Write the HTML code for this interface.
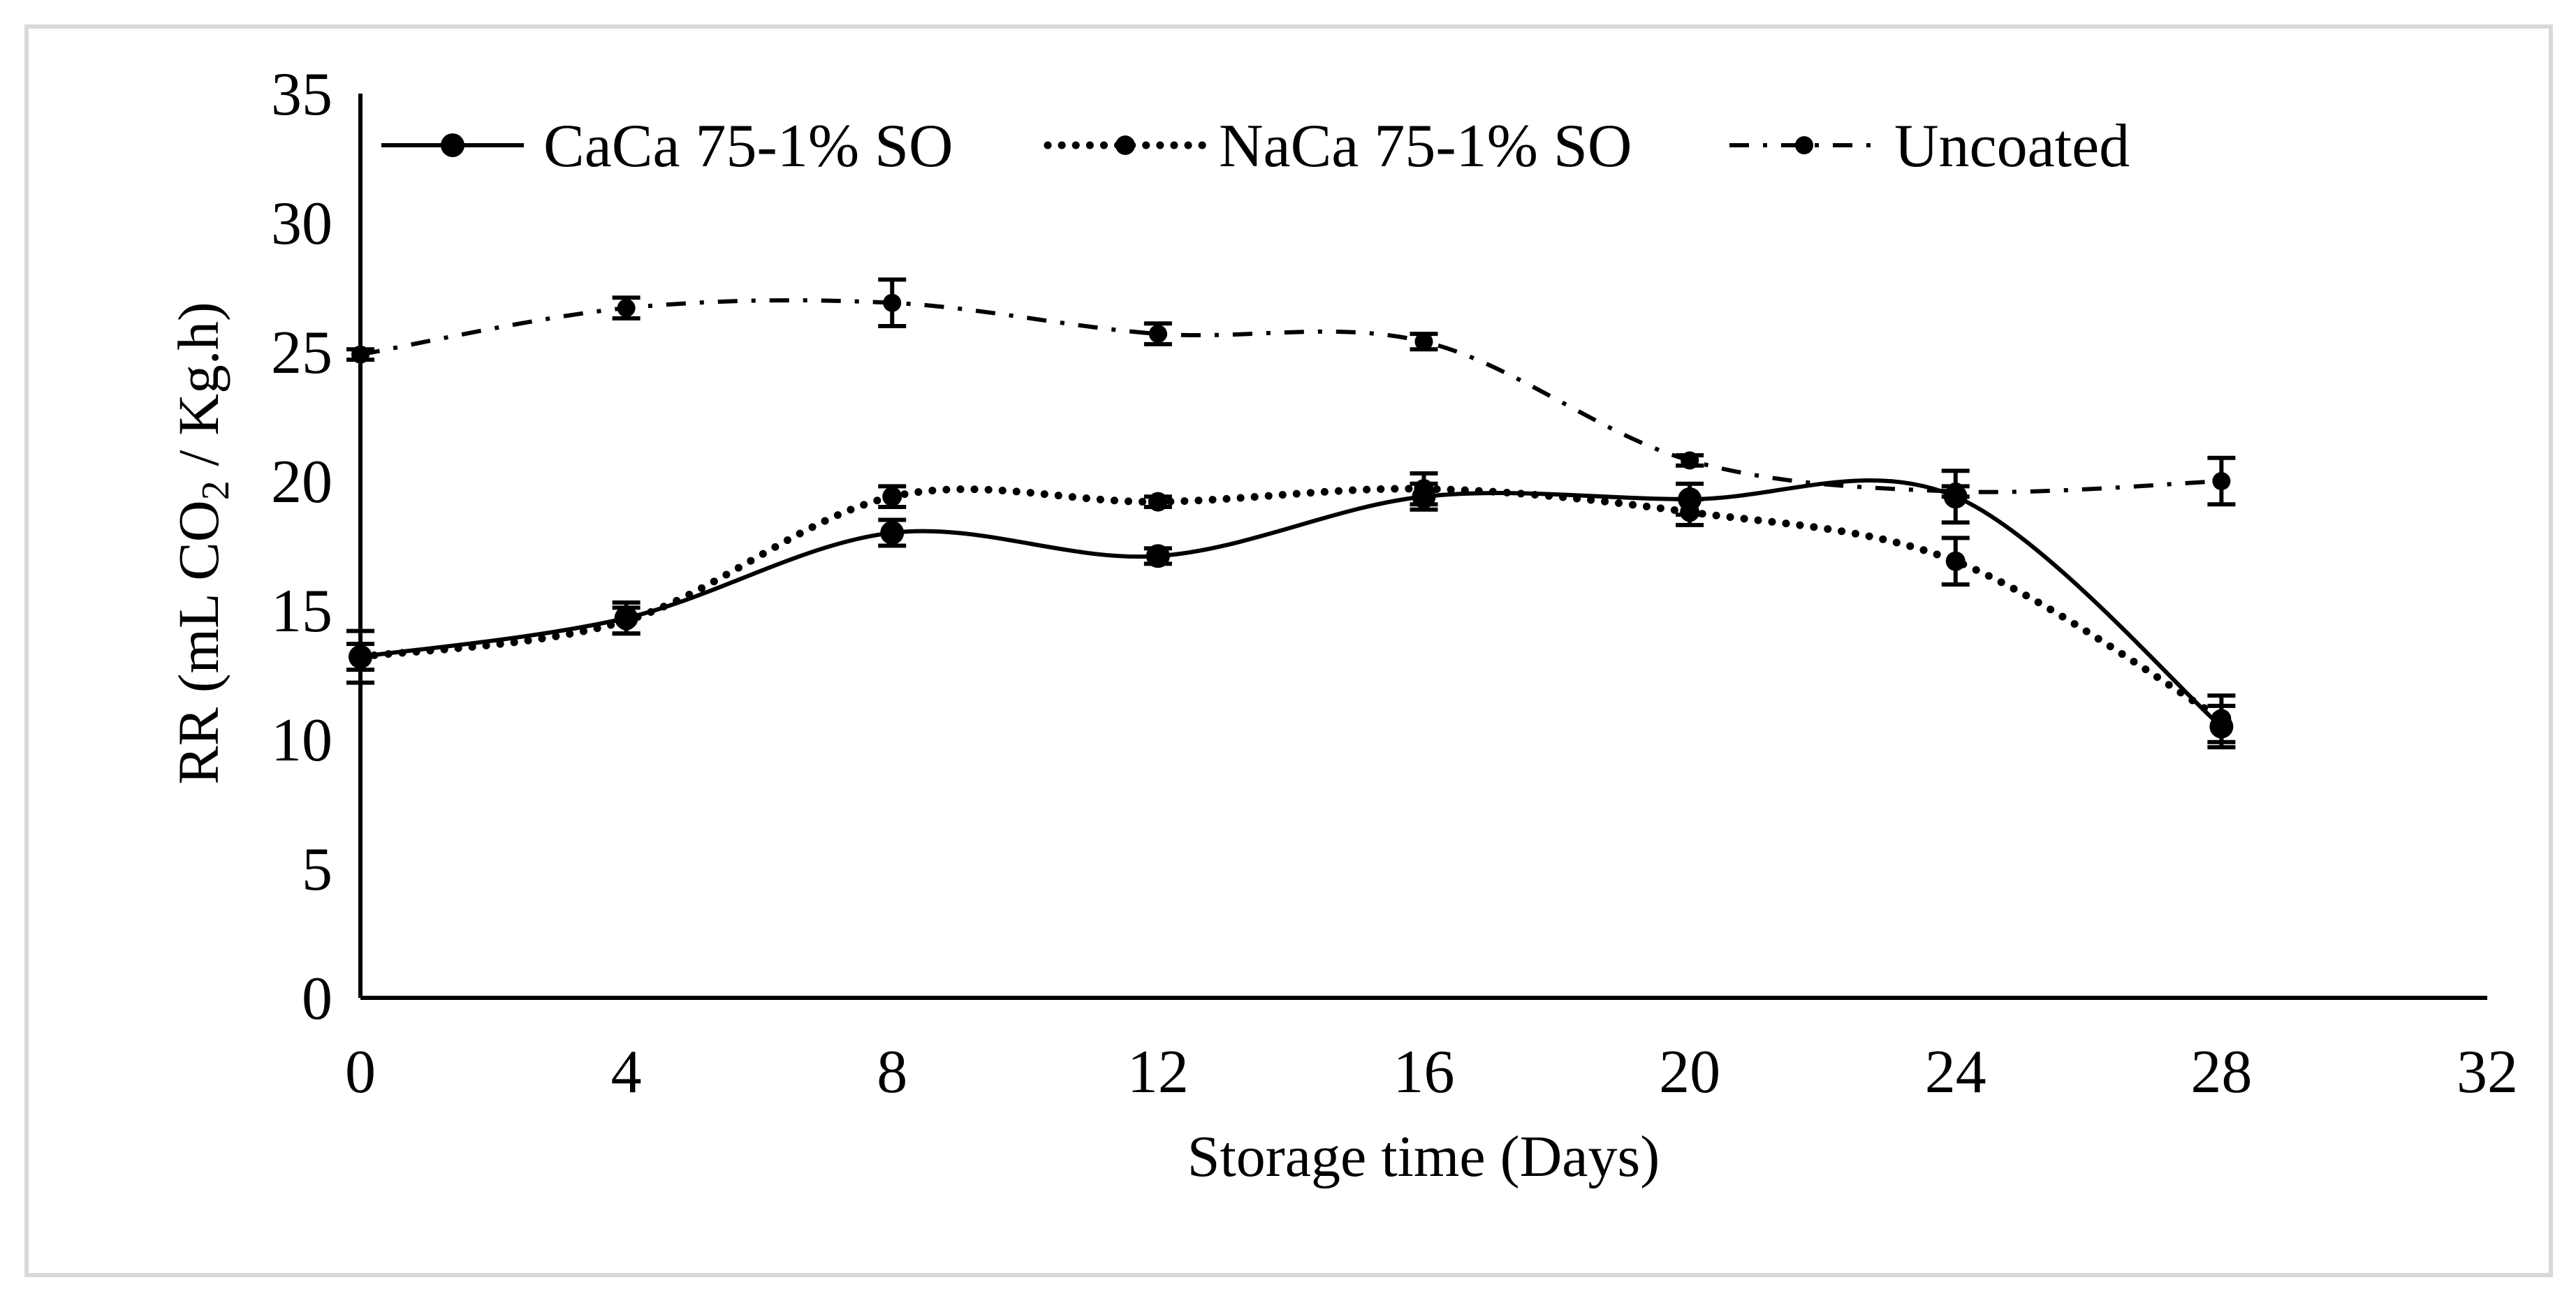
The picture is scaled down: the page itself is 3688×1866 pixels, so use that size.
<!DOCTYPE html>
<html><head><meta charset="utf-8">
<style>
html,body{margin:0;padding:0;background:#fff;}
svg{display:block;font-family:"Liberation Serif",serif;}
</style></head>
<body>
<svg id="chart" width="3688" height="1866" viewBox="0 0 3688 1866" xmlns="http://www.w3.org/2000/svg">
<rect x="38" y="38" width="3614" height="1788" fill="#fff" stroke="#d9d9d9" stroke-width="6"/>
<g id="axes"></g>
<g id="series"></g>
<text x="2038" y="1684" font-size="84" text-anchor="middle">Storage time (Days)</text>
<text transform="translate(312,778) rotate(-90)" font-size="83" text-anchor="middle">RR (mL CO<tspan font-size="56" dy="15">2</tspan><tspan dy="-15"> / Kg.h)</tspan></text>
<g id="legend"></g>
</svg>
<script>
const days = [0,4,8,12,16,20,24,28];
const cacaValues = [13.2,14.7,18.0,17.1,19.4,19.3,19.4,10.5];
const cacaErrors = [0.5,0.6,0.5,0.3,0.5,0.6,1.0,0.8];
const nacaValues = [13.2,14.6,19.4,19.2,19.7,18.8,16.9,10.8];
const nacaErrors = [1.0,0.5,0.4,0.2,0.6,0.5,0.9,0.9];
const uncoatedValues = [24.9,26.7,26.9,25.7,25.4,20.8,19.6,20.0];
const uncoatedErrors = [0.2,0.4,0.9,0.4,0.3,0.2,0.2,0.9];
const xTicks = [0,4,8,12,16,20,24,28,32];
const yTicks = [0,5,10,15,20,25,30,35];
const seriesNames = ["CaCa 75-1% SO","NaCa 75-1% SO","Uncoated"];

const NS="http://www.w3.org/2000/svg";
const X0=516, X1=3561, Y0=1429, Y1=134;
const xs = d => X0 + (d-0)/(32-0)*(X1-X0);
const ys = v => Y0 - (v-0)/(35-0)*(Y0-Y1);
function mk(tag, attrs, parent){const e=document.createElementNS(NS,tag);for(const k in attrs)e.setAttribute(k,attrs[k]);parent.appendChild(e);return e;}

const axes=document.getElementById('axes');
const yAxis=mk('line',{x1:X0,y1:Y1,x2:X0,y2:Y0,stroke:'#000','stroke-width':6},axes);


const xAxis=mk('line',{x1:X0,y1:Y0,x2:X1,y2:Y0,stroke:'#000','stroke-width':6},axes);


yTicks.forEach(t=>{
  const e=mk('text',{x:X0-40,y:ys(t)+30,'font-size':88,'text-anchor':'end'},axes);
  e.textContent=t;
  
  
});
xTicks.forEach(t=>{
  const e=mk('text',{x:xs(t),y:Y0+135,'font-size':88,'text-anchor':'middle'},axes);
  e.textContent=t;
  
  
});

function smoothPath(pts){
  let d=`M${pts[0][0]},${pts[0][1]}`;
  for(let i=0;i<pts.length-1;i++){
    const p0=pts[i-1]||pts[i], p1=pts[i], p2=pts[i+1], p3=pts[i+2]||p2;
    const t=0.5/3;
    const c1=[p1[0]+(p2[0]-p0[0])*t, p1[1]+(p2[1]-p0[1])*t];
    const c2=[p2[0]-(p3[0]-p1[0])*t, p2[1]-(p3[1]-p1[1])*t];
    d+=` C${c1[0]},${c1[1]} ${c2[0]},${c2[1]} ${p2[0]},${p2[1]}`;
  }
  return d;
}
const styles=[
  {dash:null,cap:'butt',w:6,r:17},
  {dash:'0.1 20',cap:'round',w:11,r:14},
  {dash:'28 20 6 20',cap:'butt',w:6,r:13}
];
const allVals=[cacaValues,nacaValues,uncoatedValues];
const allErrs=[cacaErrors,nacaErrors,uncoatedErrors];
const sg=document.getElementById('series');
allVals.forEach((vals,si)=>{
  const g=mk('g',{},sg);
  
  
  const pts=days.map((d,i)=>[xs(d),ys(vals[i])]);
  const st=styles[si];
  const p=mk('path',{d:smoothPath(pts),fill:'none',stroke:'#000','stroke-width':st.w,'stroke-linecap':st.cap},g);
  if(st.dash)p.setAttribute('stroke-dasharray',st.dash);
  
  
  days.forEach((d,i)=>{
    const x=xs(d), yt=ys(vals[i]+allErrs[si][i]), yb=ys(vals[i]-allErrs[si][i]);
    const eb=mk('path',{d:`M${x},${yt}V${yb}M${x-20},${yt}H${x+20}M${x-20},${yb}H${x+20}`,stroke:'#000','stroke-width':6,fill:'none'},g);
    
    
    const c=mk('circle',{cx:x,cy:ys(vals[i]),r:st.r,fill:'#000'},g);
    
    
  });
});

const lg=document.getElementById('legend');
const legX=[[546,750,648,778],[1500,1722,1611,1745],[2476,2690,2583,2712]];
const LY=208;
seriesNames.forEach((n,i)=>{
  const g=mk('g',{},lg);
  
  
  const st=styles[i];
  const l=mk('line',{x1:legX[i][0],y1:LY,x2:legX[i][1],y2:LY,stroke:'#000','stroke-width':st.w,'stroke-linecap':st.cap},g);
  if(st.dash)l.setAttribute('stroke-dasharray',st.dash);
  
  
  const c=mk('circle',{cx:legX[i][2],cy:LY,r:st.r,fill:'#000'},g);
  
  
  const t=mk('text',{x:legX[i][3],y:LY+30,'font-size':88},g);
  t.textContent=n;
  
  
});
</script>
</body></html>
